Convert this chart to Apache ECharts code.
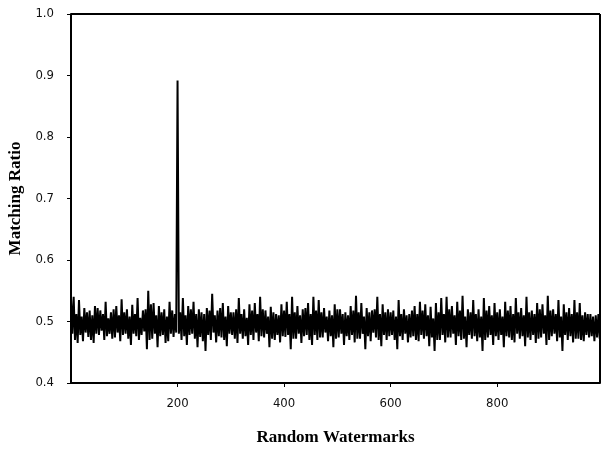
<!DOCTYPE html>
<html>
<head>
<meta charset="utf-8">
<script src="https://cdn.jsdelivr.net/npm/echarts@6/dist/echarts.min.js"></script>
<style>
  html, body { margin: 0; padding: 0; background: #fff; }
  #chart { width: 602px; height: 450px; }
</style>
</head>
<body>
<div id="chart"></div>
<script>
// watermarks per read bucket
var step = 5;
// highest matching ratio seen in each bucket of 5 watermarks (0..995)
var highs = [
    0.538, 0.540, 0.512, 0.535, 0.508, 0.522, 0.515, 0.518, 0.510, 0.525,
    0.522, 0.518, 0.512, 0.532, 0.505, 0.515, 0.520, 0.525, 0.510, 0.536,
    0.515, 0.520, 0.508, 0.527, 0.512, 0.538, 0.506, 0.518, 0.520, 0.550,
    0.528, 0.530, 0.510, 0.525, 0.515, 0.520, 0.508, 0.532, 0.518, 0.512,
    0.892, 0.515, 0.538, 0.510, 0.525, 0.520, 0.532, 0.512, 0.520, 0.515,
    0.512, 0.522, 0.518, 0.545, 0.510, 0.518, 0.522, 0.530, 0.508, 0.525,
    0.515, 0.515, 0.520, 0.538, 0.512, 0.520, 0.506, 0.528, 0.518, 0.530,
    0.512, 0.540, 0.520, 0.518, 0.508, 0.524, 0.515, 0.512, 0.510, 0.528,
    0.518, 0.532, 0.512, 0.540, 0.515, 0.525, 0.510, 0.520, 0.522, 0.530,
    0.512, 0.540, 0.518, 0.535, 0.515, 0.522, 0.508, 0.518, 0.510, 0.528,
    0.520, 0.520, 0.512, 0.515, 0.510, 0.525, 0.518, 0.542, 0.515, 0.530,
    0.508, 0.522, 0.515, 0.518, 0.520, 0.540, 0.512, 0.528, 0.515, 0.520,
    0.515, 0.518, 0.508, 0.535, 0.512, 0.520, 0.510, 0.512, 0.518, 0.525,
    0.512, 0.532, 0.518, 0.528, 0.510, 0.524, 0.505, 0.530, 0.515, 0.538,
    0.512, 0.540, 0.520, 0.525, 0.510, 0.532, 0.518, 0.542, 0.508, 0.520,
    0.515, 0.535, 0.512, 0.520, 0.508, 0.538, 0.518, 0.525, 0.510, 0.530,
    0.515, 0.520, 0.508, 0.532, 0.518, 0.525, 0.512, 0.538, 0.515, 0.522,
    0.510, 0.540, 0.515, 0.518, 0.512, 0.530, 0.520, 0.528, 0.510, 0.542,
    0.518, 0.520, 0.512, 0.535, 0.508, 0.528, 0.515, 0.522, 0.512, 0.535,
    0.515, 0.530, 0.510, 0.515, 0.512, 0.512, 0.508, 0.510, 0.512, 0.505
];
// lowest matching ratio seen in each bucket
var lows = [
    0.480, 0.470, 0.465, 0.478, 0.468, 0.482, 0.475, 0.470, 0.465, 0.480,
    0.478, 0.485, 0.470, 0.476, 0.480, 0.472, 0.474, 0.482, 0.468, 0.478,
    0.480, 0.472, 0.462, 0.480, 0.476, 0.470, 0.478, 0.484, 0.455, 0.470,
    0.472, 0.480, 0.458, 0.476, 0.478, 0.465, 0.468, 0.480, 0.475, 0.482,
    0.480, 0.470, 0.476, 0.462, 0.478, 0.480, 0.472, 0.458, 0.475, 0.468,
    0.452, 0.478, 0.470, 0.482, 0.466, 0.476, 0.474, 0.470, 0.460, 0.480,
    0.478, 0.472, 0.465, 0.480, 0.472, 0.476, 0.462, 0.478, 0.470, 0.482,
    0.468, 0.476, 0.474, 0.480, 0.458, 0.472, 0.470, 0.478, 0.466, 0.476,
    0.475, 0.478, 0.455, 0.472, 0.472, 0.480, 0.465, 0.476, 0.478, 0.470,
    0.462, 0.478, 0.470, 0.474, 0.474, 0.482, 0.468, 0.476, 0.458, 0.472,
    0.474, 0.480, 0.462, 0.476, 0.470, 0.478, 0.466, 0.472, 0.472, 0.480,
    0.455, 0.476, 0.468, 0.482, 0.474, 0.470, 0.460, 0.478, 0.470, 0.476,
    0.478, 0.470, 0.455, 0.476, 0.470, 0.480, 0.466, 0.474, 0.476, 0.470,
    0.468, 0.478, 0.472, 0.476, 0.460, 0.474, 0.452, 0.470, 0.470, 0.478,
    0.466, 0.474, 0.474, 0.480, 0.462, 0.476, 0.470, 0.472, 0.458, 0.478,
    0.472, 0.476, 0.468, 0.474, 0.452, 0.470, 0.474, 0.478, 0.462, 0.476,
    0.470, 0.478, 0.458, 0.476, 0.474, 0.470, 0.466, 0.480, 0.472, 0.476,
    0.460, 0.474, 0.470, 0.478, 0.465, 0.472, 0.474, 0.480, 0.462, 0.470,
    0.476, 0.480, 0.468, 0.474, 0.452, 0.478, 0.470, 0.476, 0.466, 0.472,
    0.472, 0.470, 0.468, 0.478, 0.474, 0.476, 0.468, 0.474, 0.472, 0.478
];
var xTicks = [200, 400, 600, 800];

// each bucket: its high, then its low half a bucket later
var points = [];
for (var i = 0; i < highs.length; i++) {
    points.push([i * step, highs[i]]);
    points.push([i * step + step / 2, lows[i]]);
}

var labelFont = '"Liberation Sans Narrow", "DejaVu Sans Condensed", "Liberation Sans", sans-serif';
var titleFont = '"Liberation Serif", "Times New Roman", serif';

var myChart = echarts.init(document.getElementById('chart'));
var option = {
    backgroundColor: '#fff',
    animation: false,
    grid: { left: 71, right: 2, top: 14, bottom: 67, outerBoundsMode: 'none', containLabel: false },
    xAxis: {
        type: 'value',
        min: 0,
        max: 993,
        interval: 200,
        name: 'Random Watermarks',
        nameLocation: 'middle',
        nameGap: 46,
        nameTextStyle: { fontFamily: titleFont, fontWeight: 'bold', fontSize: 17, color: '#000' },
        axisLine: { show: true, lineStyle: { color: '#000', width: 2 } },
        axisTick: { show: true, length: 4, lineStyle: { color: '#000' }, customValues: xTicks },
        axisLabel: { fontFamily: labelFont, fontSize: 13, color: '#111', margin: 14, customValues: xTicks },
        splitLine: { show: false }
    },
    yAxis: {
        type: 'value',
        min: 0.4,
        max: 1.0,
        interval: 0.1,
        name: 'Matching Ratio',
        nameLocation: 'middle',
        nameGap: 46,
        nameTextStyle: { fontFamily: titleFont, fontWeight: 'bold', fontSize: 17, color: '#000' },
        axisLine: { show: true, lineStyle: { color: '#000', width: 2 } },
        axisTick: { show: true, length: 4, lineStyle: { color: '#000' } },
        axisLabel: { fontFamily: labelFont, fontSize: 13, color: '#111', margin: 17,
            formatter: function (v) { return v.toFixed(1); } },
        splitLine: { show: false }
    },
    series: [{
        type: 'line',
        data: points,
        showSymbol: false,
        symbol: 'none',
        lineStyle: { color: '#000', width: 2 },
        markLine: {
            silent: true,
            symbol: 'none',
            label: { show: false },
            lineStyle: { color: '#000', width: 2, type: 'solid' },
            data: [{ yAxis: 1.0 }, { xAxis: 993 }]
        }
    }]
};
myChart.setOption(option);
</script>
</body>
</html>
